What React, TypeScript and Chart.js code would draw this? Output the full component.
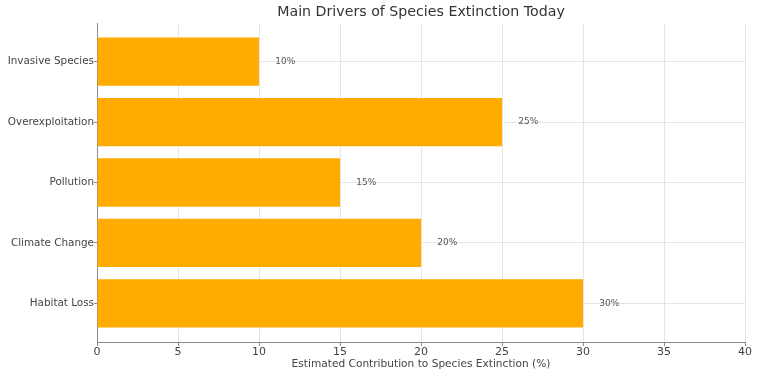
import React, { useEffect, useRef } from "react";
import { Chart, registerables } from "chart.js";

Chart.register(...registerables);

// Drivers listed bottom-to-top
const drivers = ["Habitat Loss", "Climate Change", "Pollution", "Overexploitation", "Invasive Species"];
const contributions = [30, 20, 15, 25, 10];
const xTicks = [0, 5, 10, 15, 20, 25, 30, 35, 40];

const titleText = "Main Drivers of Species Extinction Today";
const xTitle = "Estimated Contribution to Species Extinction (%)";

const FONT = "'DejaVu Sans', sans-serif";
const BAR = "#ffab00";
const GRID = "#e6e6e6";
const SPINE = "#8a8a8a";
const TEXT = "#444444";

const titlePlugin = {
  id: "centeredTitle",
  afterDraw(chart: any) {
    const { ctx, chartArea } = chart;
    ctx.save();
    ctx.font = `14.2px ${FONT}`;
    ctx.fillStyle = "#333333";
    ctx.textAlign = "center";
    ctx.textBaseline = "middle";
    ctx.fillText(titleText, (chartArea.left + chartArea.right) / 2, 12);
    ctx.restore();
  },
};

const valueLabelPlugin = {
  id: "valueLabels",
  afterDatasetsDraw(chart: any) {
    const { ctx } = chart;
    const xs = chart.scales.x;
    const ys = chart.scales.y;
    ctx.save();
    ctx.font = `9px ${FONT}`;
    ctx.fillStyle = "#555555";
    ctx.textAlign = "left";
    ctx.textBaseline = "middle";
    contributions.forEach((v, i) => {
      ctx.fillText(`${v}%`, xs.getPixelForValue(v + 1), ys.getPixelForValue(i));
    });
    ctx.restore();
  },
};

export default function App() {
  const ref = useRef<HTMLCanvasElement | null>(null);

  useEffect(() => {
    if (!ref.current) return;
    const chart = new Chart(ref.current, {
      type: "bar",
      data: {
        datasets: [
          {
            data: contributions.map((v, i) => ({ x: v, y: i })),
            backgroundColor: BAR,
            borderWidth: 0,
            barPercentage: 0.8,
            categoryPercentage: 1,
          },
        ],
      },
      options: {
        indexAxis: "y",
        animation: false,
        responsive: false,
        maintainAspectRatio: false,
        layout: { padding: { left: 0, right: 13, top: 23, bottom: 0 } },
        plugins: {
          legend: { display: false },
          title: { display: false },
          tooltip: { enabled: false },
        },
        scales: {
          x: {
            type: "linear",
            min: 0,
            max: 40,
            afterBuildTicks: (s: any) => {
              s.ticks = xTicks.map((v) => ({ value: v }));
            },
            afterFit: (s: any) => {
              s.height = 34;
            },
            grid: { color: GRID, tickColor: SPINE, tickLength: 4, drawTicks: true },
            border: { color: SPINE, width: 1 },
            ticks: {
              color: TEXT,
              font: { family: FONT, size: 11 },
              padding: 0,
              maxRotation: 0,
            },
            title: {
              display: true,
              text: xTitle,
              color: TEXT,
              font: { family: FONT, size: 10.6 },
              padding: { top: 0, bottom: 5 },
            },
          },
          y: {
            type: "linear",
            min: -0.64,
            max: 4.64,
            offset: false,
            afterBuildTicks: (s: any) => {
              s.ticks = drivers.map((_, i) => ({ value: i }));
            },
            afterFit: (s: any) => {
              s.width = 97;
            },
            grid: { color: GRID, tickColor: SPINE, tickLength: 3, drawTicks: true, offset: false },
            border: { color: SPINE, width: 1 },
            ticks: {
              color: TEXT,
              font: { family: FONT, size: 10.4 },
              padding: 0,
              callback: (v: any) => drivers[Math.round(Number(v))] ?? "",
            },
          },
        },
      },
      plugins: [titlePlugin, valueLabelPlugin],
    });
    return () => chart.destroy();
  }, []);

  return (
    <div style={{ position: "fixed", left: 0, top: 0, width: 758, height: 376, background: "#fff" }}>
      <canvas ref={ref} width={758} height={376} />
    </div>
  );
}
